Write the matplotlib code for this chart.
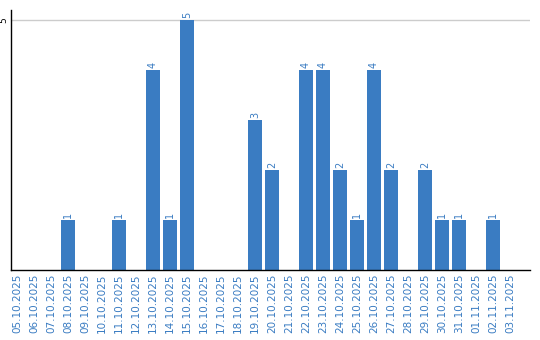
import matplotlib
matplotlib.use("Agg")
import matplotlib.pyplot as plt

dates = ["05.10.2025", "06.10.2025", "07.10.2025", "08.10.2025", "09.10.2025",
         "10.10.2025", "11.10.2025", "12.10.2025", "13.10.2025", "14.10.2025",
         "15.10.2025", "16.10.2025", "17.10.2025", "18.10.2025", "19.10.2025",
         "20.10.2025", "21.10.2025", "22.10.2025", "23.10.2025", "24.10.2025",
         "25.10.2025", "26.10.2025", "27.10.2025", "28.10.2025", "29.10.2025",
         "30.10.2025", "31.10.2025", "01.11.2025", "02.11.2025", "03.11.2025"]
counts = [0, 0, 0, 1, 0, 0, 1, 0, 4, 1,
          5, 0, 0, 0, 3, 2, 0, 4, 4, 2,
          1, 4, 2, 0, 2, 1, 1, 0, 1, 0]
y_ticks = [5]

bar_color = "#3a7cc2"

fig = plt.figure(figsize=(5.4, 3.4), dpi=100)
ax = fig.add_axes([11/540, (340-269.5)/340, (530-11)/540, (269.5-10)/340])

x = list(range(len(dates)))
ax.bar(x, counts, width=0.82, color=bar_color)

# value labels above the non-empty bars
for xi, v in zip(x, counts):
    if v > 0:
        ax.text(xi, v + 0.04, str(v), rotation=90, ha="center", va="bottom",
                color=bar_color, fontsize=7)

ax.set_xlim(-0.35, 30.18)
ax.set_ylim(0, 5.2)
ax.set_xticks(x)
ax.set_xticklabels(dates, rotation=90, fontsize=7.5, color=bar_color)
ax.set_yticks(y_ticks)
ax.set_yticklabels([str(t) for t in y_ticks], rotation=90, fontsize=6.5,
                   va="center", ha="center")
ax.tick_params(axis="x", length=0, pad=3)
ax.tick_params(axis="y", length=0, pad=5)
ax.grid(axis="y", color="#cccccc", linewidth=1)
ax.set_axisbelow(True)

for side in ["top", "right"]:
    ax.spines[side].set_visible(False)
ax.spines["left"].set_linewidth(1)
ax.spines["bottom"].set_linewidth(1)

plt.savefig("out.png", dpi=100)
